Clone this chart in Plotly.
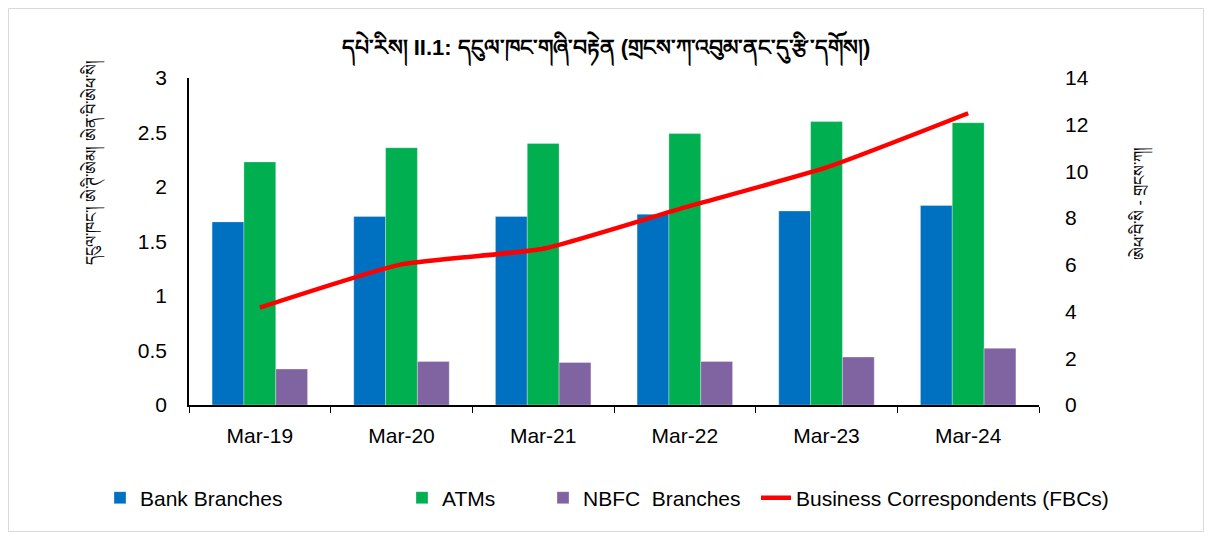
import plotly.graph_objects as go

categories = ["Mar-19", "Mar-20", "Mar-21", "Mar-22", "Mar-23", "Mar-24"]
bank_branches = [1.68, 1.73, 1.73, 1.75, 1.78, 1.83]
atms = [2.23, 2.36, 2.40, 2.49, 2.60, 2.59]
nbfc_branches = [0.33, 0.40, 0.39, 0.40, 0.44, 0.52]
business_correspondents = [4.17, 6.02, 6.69, 8.46, 10.17, 12.49]

left_ticks = [0, 0.5, 1, 1.5, 2, 2.5, 3]
left_tick_text = ["0", "0.5", "1", "1.5", "2", "2.5", "3"]
right_ticks = [0, 2, 4, 6, 8, 10, 12, 14]

title_text = "<b>དཔེ་རིས། II.1: དངུལ་ཁང་གཞི་བརྟེན (གྲངས་ཀ་འབུམ་ནང་དུ་རྩི་དགོས།)</b>"
left_title = "དངུལ་ཁང་། ཨེ་ཊི་ཨེམ། ཨེན་བི་ཨེཕ་སི།"
right_title = "ཨེཕ་བི་སི - གྲངས་ཀ།"

FONT = "Liberation Sans, Arial, DejaVu Sans, sans-serif"

# page has an 8px body margin; figure occupies page pixels 8..1204 x 8..532
OFF = 8
W, H = 1196, 524
L, T = 189 - OFF, 78 - OFF
R = W - (1039 - OFF)
B = H - (405 - OFF)
pw, ph = W - L - R, H - T - B

def px_x(x):
    return (x - OFF - L) / pw

def px_y(y):
    return (H - B - (y - OFF)) / ph

edge = dict(color="rgba(255,255,255,0.5)", width=0.6)

fig = go.Figure()
fig.add_trace(go.Bar(name="Bank Branches", x=categories, y=bank_branches, legend="legend",
                     marker=dict(color="#0070C0", line=edge)))
fig.add_trace(go.Bar(name="ATMs", x=categories, y=atms, legend="legend2",
                     marker=dict(color="#00B050", line=edge)))
fig.add_trace(go.Bar(name="NBFC  Branches", x=categories, y=nbfc_branches, legend="legend3",
                     marker=dict(color="#8064A2", line=edge)))
fig.add_trace(go.Scatter(name="Business Correspondents (FBCs)", x=categories, y=business_correspondents,
                         yaxis="y2", mode="lines", legend="legend4",
                         line=dict(color="#FF0000", width=4.5, shape="spline", smoothing=0.5)))

def leg(text_start_px):
    return dict(orientation="h", x=px_x(text_start_px - 42), xanchor="left",
                y=px_y(498), yanchor="middle",
                font=dict(family=FONT, size=21, color="black"),
                bgcolor="rgba(0,0,0,0)", borderwidth=0)

fig.update_layout(
    width=W, height=H,
    margin=dict(l=L, r=R, t=T, b=B, autoexpand=False),
    paper_bgcolor="white", plot_bgcolor="white",
    font=dict(family=FONT, size=21, color="black"),
    barmode="group", bargap=0.326, bargroupgap=0,
    showlegend=True,
    title=dict(text=title_text, x=0.5, xanchor="center", y=1 - (47 - OFF) / H, yanchor="middle",
               font=dict(family=FONT, size=22, color="black")),
    legend=leg(142),
    legend2=leg(444),
    legend3=leg(585),
    legend4=leg(798),
    xaxis=dict(type="category", showline=True, linecolor="black", linewidth=1.5,
               ticks="outside", tickson="boundaries", ticklen=6, tickcolor="black",
               tickfont=dict(family=FONT, size=21), ticklabelstandoff=11,
               showgrid=False, zeroline=False),
    yaxis=dict(range=[0, 3], tickvals=left_ticks, ticktext=left_tick_text,
               showline=True, linecolor="black", linewidth=1.5,
               ticks="", showgrid=False, zeroline=False,
               tickfont=dict(family=FONT, size=21), ticklabelstandoff=16),
    yaxis2=dict(range=[0, 14], tickvals=right_ticks, overlaying="y", side="right",
                showline=False, ticks="", showgrid=False, zeroline=False,
                tickfont=dict(family=FONT, size=21), ticklabelstandoff=25),
)

fig.add_annotation(text=left_title, textangle=-90, xref="paper", yref="paper",
                   x=px_x(92), y=px_y(163), xanchor="center", yanchor="middle",
                   showarrow=False, font=dict(family=FONT, size=16, color="black"))
fig.add_annotation(text=right_title, textangle=-90, xref="paper", yref="paper",
                   x=px_x(1140), y=px_y(204), xanchor="center", yanchor="middle",
                   showarrow=False, font=dict(family=FONT, size=16, color="black"))

fig.add_shape(type="rect", xref="paper", yref="paper",
              x0=px_x(8.5), x1=px_x(1203.5), y0=px_y(531.5), y1=px_y(8.5),
              line=dict(color="#D9D9D9", width=1), fillcolor="rgba(0,0,0,0)", layer="below")

fig.write_html("out.html")
